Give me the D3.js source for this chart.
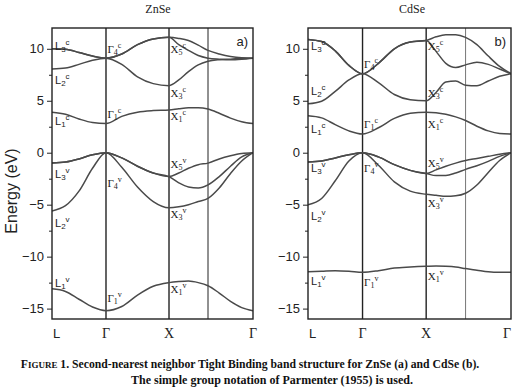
<!DOCTYPE html>
<html>
<head>
<meta charset="utf-8">
<script src="https://cdnjs.cloudflare.com/ajax/libs/d3/7.8.5/d3.min.js"></script>
<style>
body { margin: 0; background: #fff; }
</style>
</head>
<body>
<div id="chart"></div>
<script>
var svgWidth = 519;
var svgHeight = 392;

var sans = "'Liberation Sans', Arial, sans-serif";
var serif = "'Liberation Serif', 'Times New Roman', serif";

// k path L - Gamma - X - K - Gamma
var kTicks = [0, 0.857, 1.857, 2.476, 3.19];
var kLabels = ["L", "Γ", "X", "", "Γ"];
// sample points along the path (quarter points of each segment)
var kGrid = [0, 0.214, 0.428, 0.643, 0.857,
             1.107, 1.357, 1.607, 1.857,
             2.012, 2.166, 2.321, 2.476,
             2.654, 2.833, 3.011, 3.19];

var energyTicks = [-15, -10, -5, 0, 5, 10];
var minorTicks = [-12.5, -7.5, -2.5, 2.5, 7.5];

// ZnSe bands (eV) read at kGrid
var znseL1v = [-13.1, -13.35, -14.1, -14.85, -15.2, -14.8, -13.7, -12.85, -12.5, -12.4, -12.35, -12.5, -12.8, -13.5, -14.3, -14.9, -15.2];
var znseV3 = [-5.6, -5.1, -3.7, -1.5, 0, -1.4, -3.3, -4.7, -5.3, -5.2, -5.0, -4.7, -4.4, -3.4, -2.0, -0.8, 0];
var znseV2 = [-1.0, -0.9, -0.6, -0.2, 0, -0.5, -1.3, -1.95, -2.3, -2.9, -3.3, -3.4, -3.1, -2.3, -1.3, -0.4, 0];
var znseV1 = [-1.0, -0.9, -0.6, -0.2, 0, -0.5, -1.3, -1.95, -2.3, -1.95, -1.5, -1.15, -1.0, -0.6, -0.3, -0.08, 0];
var znseC1 = [3.9, 3.7, 3.25, 2.9, 2.8, 3.5, 3.9, 4.05, 4.1, 4.23, 4.33, 4.33, 4.2, 3.8, 3.33, 2.98, 2.8];
var znseC2 = [8.05, 8.15, 8.5, 8.9, 9.1, 8.5, 7.3, 6.65, 6.45, 7.0, 7.8, 8.45, 8.8, 8.95, 9.0, 9.08, 9.1];
var znseC3 = [10.0, 9.95, 9.65, 9.3, 9.1, 9.5, 10.4, 10.95, 11.1, 10.4, 9.85, 9.35, 9.1, 9.0, 8.95, 9.0, 9.1];
var znseC4 = [10.0, 9.95, 9.65, 9.3, 9.1, 9.5, 10.4, 10.95, 11.1, 11.0, 10.8, 10.35, 9.85, 9.5, 9.25, 9.13, 9.1];

// CdSe bands (eV) read at kGrid
var cdseL1v = [-11.45, -11.4, -11.35, -11.4, -11.5, -11.35, -11.1, -11.0, -10.93, -10.9, -10.93, -11.0, -11.15, -11.3, -11.45, -11.5, -11.5];
var cdseV3 = [-5.0, -4.4, -2.7, -0.8, 0, -1.2, -2.8, -3.7, -4.0, -4.1, -4.2, -4.15, -3.9, -3.1, -1.9, -0.75, 0];
var cdseV2 = [-0.9, -0.8, -0.5, -0.2, 0, -0.4, -1.15, -1.7, -2.0, -2.2, -2.2, -1.95, -1.6, -1.25, -0.83, -0.35, 0];
var cdseV1 = [-0.9, -0.8, -0.5, -0.2, 0, -0.4, -1.15, -1.7, -2.0, -1.65, -1.3, -1.0, -0.75, -0.55, -0.35, -0.15, 0];
var cdseC1 = [3.55, 3.35, 2.7, 2.1, 1.8, 2.4, 3.3, 3.8, 3.9, 3.85, 3.7, 3.45, 3.1, 2.55, 2.1, 1.85, 1.8];
var cdseC2 = [4.7, 4.95, 5.9, 7.0, 7.6, 6.75, 5.6, 5.1, 5.0, 5.8, 6.8, 6.9, 6.5, 6.45, 6.9, 7.35, 7.6];
var cdseC3 = [10.9, 10.7, 9.8, 8.4, 7.6, 8.6, 10.0, 10.65, 10.8, 9.75, 8.6, 8.2, 8.45, 8.7, 8.5, 8.05, 7.6];
var cdseC4 = [10.9, 10.7, 9.8, 8.4, 7.6, 8.6, 10.0, 10.65, 10.8, 11.15, 11.35, 11.35, 11.1, 10.4, 9.3, 8.3, 7.6];

// point labels: [symbol, sub, sup, k index, energy]
var znseLabels = [
  ["L", "3", "c", 0, 9.88], ["L", "2", "c", 0, 6.6], ["L", "1", "c", 0, 2.67],
  ["Γ", "4", "c", 1, 9.6], ["Γ", "1", "c", 1, 3.34],
  ["X", "5", "c", 2, 9.6], ["X", "3", "c", 2, 5.4], ["X", "1", "c", 2, 3.15],
  ["L", "3", "v", 0, -2.44], ["L", "2", "v", 0, -7.15], ["L", "1", "v", 0, -12.9],
  ["Γ", "4", "v", 1, -3.3], ["Γ", "1", "v", 1, -14.4],
  ["X", "5", "v", 2, -1.47], ["X", "3", "v", 2, -6.28], ["X", "1", "v", 2, -13.5]
];
var cdseLabels = [
  ["L", "3", "c", 0, 9.88], ["L", "2", "c", 0, 5.55], ["L", "1", "c", 0, 1.9],
  ["Γ", "4", "c", 1, 8.15], ["Γ", "1", "c", 1, 2.38],
  ["X", "5", "c", 2, 9.88], ["X", "3", "c", 2, 5.36], ["X", "1", "c", 2, 2.38],
  ["L", "3", "v", 0, -1.86], ["L", "2", "v", 0, -6.48], ["L", "1", "v", 0, -12.77],
  ["Γ", "4", "v", 1, -1.86], ["Γ", "1", "v", 1, -12.87],
  ["X", "5", "v", 2, -1.38], ["X", "3", "v", 2, -5.26], ["X", "1", "v", 2, -12.28]
];

var panels = [
  { title: "ZnSe", tag: "a)", left: 52, right: 253, kColor: "#222",
    bands: [znseL1v, znseV3, znseV2, znseV1, znseC1, znseC2, znseC3, znseC4], labels: znseLabels },
  { title: "CdSe", tag: "b)", left: 308, right: 511, kColor: "#777",
    bands: [cdseL1v, cdseV3, cdseV2, cdseV1, cdseC1, cdseC2, cdseC3, cdseC4], labels: cdseLabels }
];

var plotTop = 28, plotBottom = 319;

var svg = d3.select("#chart")
    .append("svg")
    .attr("width", svgWidth)
    .attr("height", svgHeight);

var y = d3.scaleLinear().domain([-16, 12]).range([plotBottom, plotTop]);

panels.forEach(function(p, pi) {
    var x = d3.scaleLinear().domain([0, 3.19]).range([p.left, p.right]);
    var g = svg.append("g");

    g.append("clipPath").attr("id", "clip" + pi)
        .append("rect")
        .attr("x", p.left).attr("y", plotTop)
        .attr("width", p.right - p.left).attr("height", plotBottom - plotTop);

    // high-symmetry lines
    g.selectAll(".kline")
        .data(kTicks.slice(1, 4))
        .enter()
        .append("line")
        .attr("x1", function(d) { return x(d); })
        .attr("x2", function(d) { return x(d); })
        .attr("y1", plotTop).attr("y2", plotBottom)
        .attr("stroke", function(d, i) { return i == 2 ? p.kColor : "#222"; })
        .attr("stroke-width", function(d, i) { return i == 2 ? 1 : 1.4; });

    var line = d3.line()
        .x(function(d, i) { return x(kGrid[i]); })
        .y(function(d) { return y(d); })
        .curve(d3.curveMonotoneX);

    g.append("g").attr("clip-path", "url(#clip" + pi + ")")
        .selectAll("path")
        .data(p.bands)
        .enter()
        .append("path")
        .attr("d", line)
        .attr("fill", "none")
        .attr("stroke", "#4a4a4a")
        .attr("stroke-width", 1.5);

    // frame
    g.append("rect")
        .attr("x", p.left).attr("y", plotTop)
        .attr("width", p.right - p.left).attr("height", plotBottom - plotTop)
        .attr("fill", "none")
        .attr("stroke", "#222")
        .attr("stroke-width", 1.4);

    // energy axis
    var ax = g.append("g")
        .attr("transform", "translate(" + p.left + ",0)")
        .call(d3.axisLeft(y).tickValues(energyTicks).tickSize(5).tickPadding(3));
    ax.select(".domain").remove();
    ax.selectAll("line").attr("stroke", "#222");
    ax.selectAll("text").style("font-family", sans).style("font-size", "13px").attr("fill", "#222");

    var mx = g.append("g")
        .attr("transform", "translate(" + p.left + ",0)")
        .call(d3.axisLeft(y).tickValues(minorTicks).tickSize(3).tickFormat(""));
    mx.select(".domain").remove();
    mx.selectAll("line").attr("stroke", "#222");

    // k labels
    g.selectAll(".klab")
        .data(kTicks)
        .enter()
        .append("text")
        .attr("x", function(d, i) { return i == 0 ? x(d) + 1 : x(d); })
        .attr("y", 338)
        .attr("text-anchor", function(d, i) { return i == 0 ? "start" : (i == 4 && pi == 1 ? "end" : "middle"); })
        .style("font-family", function(d, i) { return i == 0 ? sans : serif; })
        .style("font-size", function(d, i) { return i == 0 ? "13px" : "14px"; })
        .attr("fill", "#222")
        .text(function(d, i) { return kLabels[i]; });

    // point labels
    p.labels.forEach(function(l) {
        var t = g.append("text")
            .attr("x", x(kTicks[l[3]]) + (l[3] == 0 ? 3 : 1.5))
            .attr("y", y(l[4]))
            .style("font-family", l[0] == "L" ? sans : serif)
            .style("font-size", "11px")
            .attr("fill", "#222");
        t.append("tspan").text(l[0]);
        t.append("tspan").attr("dy", 2).style("font-size", "8px").text(l[1]);
        t.append("tspan").attr("dy", -7).style("font-size", "8px").text(l[2]);
    });

    // panel tag and title
    g.append("text")
        .attr("x", p.right - 5).attr("y", 46)
        .attr("text-anchor", "end")
        .style("font-family", sans).style("font-size", "13px")
        .attr("fill", "#222")
        .text(p.tag);

    g.append("text")
        .attr("x", pi == 0 ? 158 : 412).attr("y", 13)
        .attr("text-anchor", "middle")
        .style("font-family", serif).style("font-size", "12px")
        .attr("fill", "#222")
        .text(p.title);
});

svg.append("text")
    .attr("transform", "translate(17,191) rotate(-90)")
    .attr("text-anchor", "middle")
    .style("font-family", sans).style("font-size", "16px")
    .attr("fill", "#222")
    .text("Energy (eV)");

var cap1 = svg.append("text")
    .attr("x", 250).attr("y", 368)
    .attr("text-anchor", "middle")
    .style("font-family", serif).style("font-size", "11.7px").style("font-weight", "bold")
    .attr("fill", "#111");
cap1.append("tspan").text("F");
cap1.append("tspan").style("font-size", "9px").text("IGURE");
cap1.append("tspan").text(" 1. Second-nearest neighbor Tight Binding band structure for ZnSe (a) and CdSe (b).");

svg.append("text")
    .attr("x", 272).attr("y", 384)
    .attr("text-anchor", "middle")
    .style("font-family", serif).style("font-size", "12px").style("font-weight", "bold")
    .attr("fill", "#111")
    .text("The simple group notation of Parmenter (1955) is used.");
</script>
</body>
</html>
